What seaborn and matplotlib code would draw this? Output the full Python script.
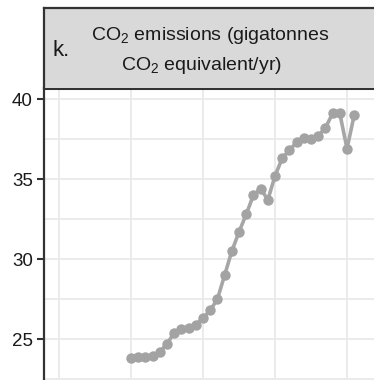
import matplotlib
matplotlib.use("Agg")
import matplotlib.pyplot as plt
import seaborn as sns
import pandas as pd
from matplotlib.ticker import MultipleLocator

# Annual CO2 emissions (gigatonnes CO2 equivalent per year)
years = list(range(1990, 2022))
emissions = [23.8, 23.85, 23.9, 23.95, 24.2, 24.7, 25.4, 25.6, 25.7, 25.9,
             26.3, 26.8, 27.5, 29.0, 30.5, 31.7, 32.8, 34.0, 34.4, 33.7,
             35.2, 36.3, 36.8, 37.3, 37.55, 37.5, 37.7, 38.2, 39.1, 39.1,
             36.9, 39.0]
y_ticks = [25, 30, 35, 40]
panel_letter = "k."
title_lines = ["CO$_2$ emissions (gigatonnes", "CO$_2$ equivalent/yr)"]

df = pd.DataFrame({"year": years, "emissions": emissions})

sns.set_theme(style="whitegrid")
plt.rcParams["font.family"] = ["Liberation Sans", "DejaVu Sans"]
plt.rcParams["mathtext.fontset"] = "custom"
plt.rcParams["mathtext.rm"] = "Liberation Sans"
plt.rcParams["mathtext.it"] = "Liberation Sans:italic"

W, H = 374, 380
fig = plt.figure(figsize=(W / 100, H / 100), dpi=100)
fig.patch.set_facecolor("white")

border = "#333333"
grid_c = "#ebebeb"

# main panel
ax = fig.add_axes([44 / W, 0, (W - 44) / W, (H - 88) / H])
sns.lineplot(data=df, x="year", y="emissions", ax=ax, color="#a6a6a6",
             linewidth=2.6, marker="o", markersize=7.5,
             markeredgewidth=0, markerfacecolor="#a3a3a3")
ax.set_xlim(1977.9, 2023.75)
ax.set_ylim(22.44, 40.69)
ax.set_yticks(y_ticks)
ax.yaxis.set_minor_locator(MultipleLocator(2.5))
ax.xaxis.set_major_locator(MultipleLocator(10))
ax.grid(True, which="both", color=grid_c, linewidth=1.4)
ax.set_xlabel("")
ax.set_ylabel("")
ax.tick_params(axis="x", which="both", bottom=False, labelbottom=False)
ax.tick_params(axis="y", which="major", left=True, length=5, width=1.5,
               color=border, pad=3, labelsize=13.5, labelcolor="#1a1a1a")
ax.tick_params(axis="y", which="minor", left=False)
ax.set_facecolor("white")
for side in ["right", "bottom"]:
    ax.spines[side].set_visible(False)
ax.spines["left"].set_color(border)
ax.spines["left"].set_linewidth(1.6)
ax.spines["top"].set_color(border)
ax.spines["top"].set_linewidth(2.2)

# strip with the panel title
sx = fig.add_axes([44 / W, (H - 88) / H, (W - 44) / W, 80 / H])
sx.set_facecolor("#d9d9d9")
sx.set_xticks([])
sx.set_yticks([])
sx.grid(False)
for side in ["right", "bottom"]:
    sx.spines[side].set_visible(False)
for side in ["left", "top"]:
    sx.spines[side].set_color(border)
    sx.spines[side].set_linewidth(1.6)
sx.set_xlim(0, W - 44)
sx.set_ylim(80, 0)
sx.text(52 - 44, 43, panel_letter, fontsize=16, ha="left", va="center",
        color="#1a1a1a")
sx.text(210 - 44, 27, title_lines[0], fontsize=14, ha="center",
        va="center", color="#1a1a1a")
sx.text(201 - 44, 57, title_lines[1], fontsize=14, ha="center",
        va="center", color="#1a1a1a")

fig.savefig("out.png", dpi=100, facecolor="white")
